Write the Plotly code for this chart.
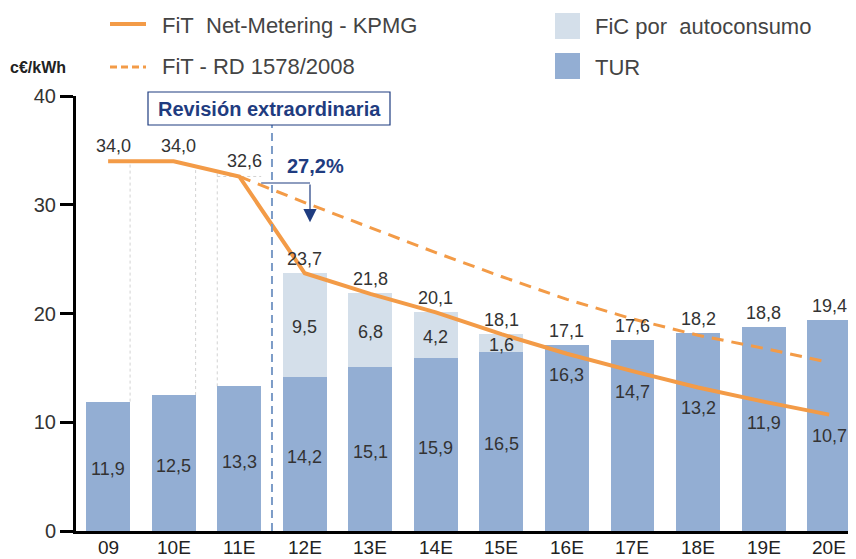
import numpy as np
import plotly.graph_objects as go

# ---------------- data ----------------
categories = ["09", "10E", "11E", "12E", "13E", "14E", "15E", "16E", "17E", "18E", "19E", "20E"]
tur = [11.9, 12.5, 13.3, 14.2, 15.1, 15.9, 16.5, 17.1, 17.6, 18.2, 18.8, 19.4]
fic = [0, 0, 0, 9.5, 6.8, 4.2, 1.6, 0, 0, 0, 0, 0]
bar_total_labels = [None, None, None, 23.7, 21.8, 20.1, 18.1, 17.1, 17.6, 18.2, 18.8, 19.4]
fit_kpmg = [34.0, 34.0, 32.6, 23.7, 21.8, 20.1, 18.1, 16.3, 14.7, 13.2, 11.9, 10.7]
rd_categories = ["11E", "12E", "13E", "14E", "15E", "16E", "17E", "18E", "19E", "20E"]
fit_rd = [32.6, 30.2, 27.9, 25.6, 23.4, 21.3, 19.5, 18.0, 16.8, 15.5]
y_ticks = [0, 10, 20, 30, 40]
drop_label = "27,2%"

# ---------------- style ----------------
ORANGE = "#F39B47"
TUR_C = "#93AED3"
FIC_C = "#D4DFEA"
NAVY = "#1F3C80"
TXT = "#333333"
FONT = "Liberation Sans, Arial, sans-serif"
BW = 0.67

# page body has an 8px default margin: the figure is drawn from (8, 8)
OFF = 8
W, H = 856 - OFF, 559 - OFF
# plot area in screenshot pixels
L, R, T, B = 76, 856, 96, 531


def pxx(x):
    return (x - L) / (R - L)


def pyy(y):
    return (B - y) / (B - T)


def fmt(v):
    return f"{v:.1f}".replace(".", ",")


xi = list(range(len(categories)))
xr = [categories.index(c) for c in rd_categories]
total = [t + f for t, f in zip(tur, fic)]

fig = go.Figure()
fig.add_trace(go.Bar(x=xi, y=tur, marker_color=TUR_C, width=BW, name="TUR",
                     marker_line_width=0, hoverinfo="skip"))
fig.add_trace(go.Bar(x=xi, y=[f if f > 0 else None for f in fic], marker_color=FIC_C, width=BW,
                     name="FiC por autoconsumo", marker_line_width=0, hoverinfo="skip"))
fig.add_trace(go.Scatter(x=xr, y=fit_rd, mode="lines",
                         line=dict(color=ORANGE, width=3, dash="12px,8px"), name="FiT - RD 1578/2008"))
fig.add_trace(go.Scatter(x=xi, y=fit_kpmg, mode="lines",
                         line=dict(color=ORANGE, width=4), name="FiT Net-Metering - KPMG"))

ann = []
shapes = []
lab_font = dict(family=FONT, size=18, color=TXT)

# category labels under the axis (kept inside the page)
for i in range(len(xi)):
    ann.append(dict(x=xi[i], y=pyy(H + OFF), xref="x", yref="paper", yanchor="bottom",
                    text=categories[i], showarrow=False, borderpad=0,
                    font=dict(family=FONT, size=19, color="#222222")))

# labels above line for first three
for i in range(3):
    ann.append(dict(x=xi[i], y=fit_kpmg[i], text=fmt(fit_kpmg[i]), showarrow=False,
                    yshift=15, xshift=5, font=lab_font))
# labels above bars
for i in range(len(xi)):
    if bar_total_labels[i] is not None:
        ann.append(dict(x=xi[i], y=total[i], text=fmt(bar_total_labels[i]), showarrow=False,
                        yshift=14, font=lab_font))
# inside labels: TUR value, or line value where the line crosses the bar
for i in range(len(xi)):
    if fit_kpmg[i] >= tur[i]:
        ann.append(dict(x=xi[i], y=tur[i] / 2, text=fmt(tur[i]), showarrow=False,
                        yshift=-3, font=lab_font))
    else:
        ann.append(dict(x=xi[i], y=fit_kpmg[i], text=fmt(fit_kpmg[i]), showarrow=False,
                        yshift=-21, font=lab_font))
# FiC labels
for i in range(len(xi)):
    if fic[i] > 0:
        ann.append(dict(x=xi[i], y=tur[i] + fic[i] / 2, text=fmt(fic[i]), showarrow=False,
                        yshift=-2, font=lab_font))

# ghost dotted outlines for the first bars
for i, side in [(0, 1), (1, 1), (2, -1)]:
    xe = xi[i] + side * BW / 2
    top = float(np.interp(xe, xi, fit_kpmg))
    shapes.append(dict(type="line", x0=xe, x1=xe, y0=tur[i], y1=top, xref="x", yref="y",
                       line=dict(color="#D2D2D2", width=1, dash="3px,3px"), layer="below"))
shapes.append(dict(type="line", x0=xi[2] - BW / 2, x1=xi[2] + BW / 2, y0=fit_kpmg[2], y1=fit_kpmg[2],
                   xref="x", yref="y", line=dict(color="#D2D2D2", width=1, dash="3px,3px"), layer="below"))

# vertical dashed "revision" line between 11E and 12E
xv = (xi[2] + xi[3]) / 2
shapes.append(dict(type="line", x0=xv, x1=xv, y0=0, y1=pyy(125), xref="x", yref="paper",
                   line=dict(color="#7C9CC7", width=2, dash="8px,5px")))

# box "Revisión extraordinaria"
shapes.append(dict(type="rect", x0=pxx(148), x1=pxx(390), y0=pyy(125), y1=pyy(92),
                   xref="paper", yref="paper", line=dict(color=NAVY, width=1.2), fillcolor="white"))
ann.append(dict(x=pxx(269), y=pyy(108.5), xref="paper", yref="paper", xanchor="center", yanchor="middle",
                text="<b>Revisión extraordinaria</b>",
                showarrow=False, font=dict(family=FONT, size=20, color=NAVY)))

# 27,2% arrow
x_arrow_start = xi[2] + BW / 2
x_arrow = 3.08
y_arrow_top = 32.0
y_arrow_tip = 28.4
shapes.append(dict(type="line", x0=x_arrow_start, x1=x_arrow, y0=y_arrow_top, y1=y_arrow_top,
                   xref="x", yref="y", line=dict(color=NAVY, width=1.2)))
ann.append(dict(x=x_arrow, y=y_arrow_tip, ax=x_arrow, ay=y_arrow_top, axref="x", ayref="y",
                xref="x", yref="y", text="", showarrow=True, arrowhead=2, arrowsize=2.2,
                arrowwidth=1.2, arrowcolor=NAVY))
ann.append(dict(x=pxx(315), y=pyy(166), xref="paper", yref="paper", xanchor="center", yanchor="middle",
                text=f"<b>{drop_label}</b>",
                showarrow=False, font=dict(family=FONT, size=20, color=NAVY)))

# y unit label
ann.append(dict(x=pxx(38), y=pyy(68), xref="paper", yref="paper", xanchor="center", yanchor="middle",
                text="<b>c€/kWh</b>",
                showarrow=False, font=dict(family=FONT, size=16, color="#222222")))

# manual legend
leg_font = dict(family=FONT, size=22, color="#444444")
shapes.append(dict(type="line", x0=pxx(110), x1=pxx(146), y0=pyy(24), y1=pyy(24), xref="paper", yref="paper",
                   line=dict(color=ORANGE, width=4)))
ann.append(dict(x=pxx(160), y=pyy(25), xref="paper", yref="paper", xanchor="left", yanchor="middle",
                text="FiT\u00a0 Net-Metering - KPMG", showarrow=False, font=leg_font))
shapes.append(dict(type="line", x0=pxx(110), x1=pxx(146), y0=pyy(67), y1=pyy(67), xref="paper", yref="paper",
                   line=dict(color=ORANGE, width=3, dash="7px,4px")))
ann.append(dict(x=pxx(160), y=pyy(66), xref="paper", yref="paper", xanchor="left", yanchor="middle",
                text="FiT - RD 1578/2008", showarrow=False, font=leg_font))
shapes.append(dict(type="rect", x0=pxx(555), x1=pxx(580), y0=pyy(39), y1=pyy(13), xref="paper", yref="paper",
                   line=dict(width=0), fillcolor=FIC_C))
ann.append(dict(x=pxx(593), y=pyy(27), xref="paper", yref="paper", xanchor="left", yanchor="middle",
                text="FiC por\u00a0 autoconsumo", showarrow=False, font=leg_font))
shapes.append(dict(type="rect", x0=pxx(555), x1=pxx(580), y0=pyy(79), y1=pyy(53), xref="paper", yref="paper",
                   line=dict(width=0), fillcolor=TUR_C))
ann.append(dict(x=pxx(593), y=pyy(67), xref="paper", yref="paper", xanchor="left", yanchor="middle",
                text="TUR", showarrow=False, font=leg_font))

fig.update_layout(
    width=W, height=H,
    margin=dict(l=L - OFF, r=(W + OFF) - R, t=T - OFF, b=(H + OFF) - B, pad=0, autoexpand=False),
    barmode="stack",
    showlegend=False,
    plot_bgcolor="white", paper_bgcolor="white",
    annotations=ann, shapes=shapes,
    font=dict(family=FONT, color=TXT),
)
fig.update_xaxes(range=[-0.49, 11.41], tickvals=xi, showticklabels=False, showline=True,
                 linecolor="black", linewidth=3, ticks="", showgrid=False, zeroline=False,
                 automargin=False)
fig.update_yaxes(range=[0, 40], tickvals=y_ticks, showline=True, linecolor="black", linewidth=3,
                 ticks="outside", ticklen=13, tickwidth=3, tickcolor="black", showgrid=False,
                 zeroline=False, automargin=False, tickfont=dict(family=FONT, size=20, color="#333333"))

fig.write_html("out.html")
